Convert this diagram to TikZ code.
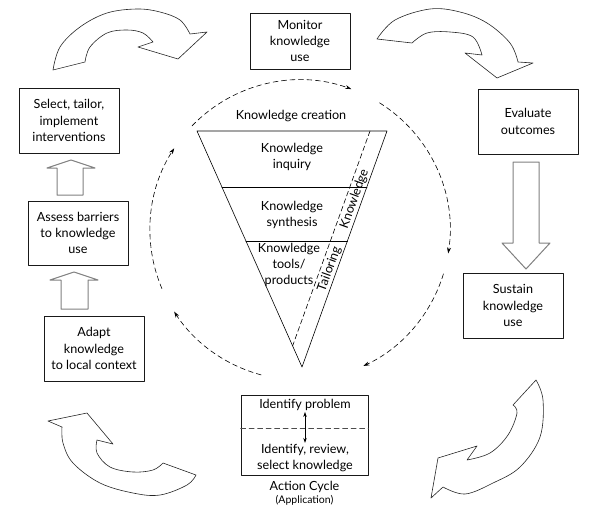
\documentclass[tikz,border=0pt]{standalone}
\usepackage{fontspec}
\setmainfont{Lato}
\usetikzlibrary{arrows.meta,positioning}
\begin{document}
\begin{tikzpicture}[x=1pt,y=-1pt,line cap=round,line join=round,
  kbox/.style={draw=black!90,line width=.8pt,align=center,minimum width=100pt,minimum height=65pt,inner sep=1pt,font=\fontsize{12.6}{16.3}\selectfont},
  ktext/.style={align=center,inner sep=1pt,font=\fontsize{12.6}{16.3}\selectfont},
  cyc/.style={dash pattern=on 5pt off 3.5pt,line width=.6pt,-{Stealth[length=6pt,width=4pt]}},
  blockarrow/.style={draw=black!50,line width=1pt},
  bendarrow/.style={draw=black!85,line width=.6pt}]
\path[use as bounding box] (0,0) rectangle (601,530);
\node[kbox,minimum height=56pt] (monitor) at (300,41) {Monitor\\knowledge\\use};
\node[kbox] (select) at (69,120.5) {Select, tailor,\\implement\\interventions};
\node[kbox] (evaluate) at (528,121.5) {Evaluate\\outcomes};
\node[kbox,minimum height=64pt] (assess) at (78,233) {Assess barriers\\to knowledge\\use};
\node[kbox] (adapt) at (94,348.5) {Adapt\\knowledge\\to local context};
\node[kbox] (sustain) at (513,305.5) {Sustain\\knowledge\\use};
\node[kbox,minimum width=127pt,minimum height=80pt] (action) at (304.5,435) {};
\node[ktext] (idprob) at (305,405) {Identify problem};
\node[ktext] (idsel) at (305,458) {Identify, review,\\select knowledge};
\node[ktext,font=\fontsize{12.6}{12.5}\selectfont] (cyclabel) at (304.5,493) {Action Cycle\\{\fontsize{10.5}{11}\selectfont(Application)}};
\draw[dash pattern=on 5pt off 3.5pt,line width=.6pt,black!70] ([yshift=7pt]action.west) -- ([yshift=7pt]action.east);
\draw[{Stealth[length=5pt,width=3.5pt]}-{Stealth[length=5pt,width=3.5pt]},line width=.6pt] (idprob.south) -- (idsel.north);
\draw[line width=.6pt] (197,131) -- (387,131) -- (302,367) -- cycle;
\draw[line width=.6pt] (222,187) -- (367,187);
\draw[line width=.8pt] (246,241) -- (347.4,241);
\draw[dash pattern=on 5pt off 3pt,line width=.6pt] (370,131) -- (292.6,345.9);
\node[ktext] (kcreate) at (291,116) {Knowledge creation};
\node[ktext] (kinquiry) at (292,157) {Knowledge\\inquiry};
\node[ktext] (ksynth) at (292,215) {Knowledge\\synthesis};
\node[ktext,inner sep=0pt] (ktools) at (289,265) {Knowledge\\tools/\\products};
\node[ktext,inner sep=0pt,rotate=70.2] (kword) at (354.5,199) {Knowledge};
\node[ktext,inner sep=0pt,rotate=70.2] (tword) at (329.5,269) {Tailoring};
\draw[cyc] ([shift={(300,230)}]136:150pt) arc[start angle=136,end angle=70,radius=150pt];
\draw[cyc] ([shift={(300,230)}]58:150pt) arc[start angle=58,end angle=-9,radius=150pt];
\draw[cyc] ([shift={(300,230)}]-17:150pt) arc[start angle=-17,end angle=-65,radius=150pt];
\draw[cyc] ([shift={(300,230)}]255:150pt) arc[start angle=255,end angle=213,radius=150pt];
\draw[cyc] ([shift={(300,230)}]203:150pt) arc[start angle=203,end angle=147,radius=150pt];
\draw[blockarrow] (57,195) -- (57,168) -- (47,168) -- (71,160) -- (95,168) -- (83,168) -- (83,195) -- cycle;
\draw[blockarrow] (61,309) -- (61,280) -- (50,280) -- (74,272) -- (98,280) -- (88,280) -- (88,309) -- cycle;
\draw[blockarrow] (513,162) -- (513,243) -- (502,243) -- (526,269) -- (550,243) -- (539,243) -- (539,162) -- cycle;
\draw[bendarrow] plot[smooth,tension=.6] coordinates {(53,70) (60,47) (80,27) (107,13) (137,9) (160,12) (180,20) (190,34)} -- (207,32) -- (178,59) -- (138,47) -- (153,42) -- plot[smooth,tension=.6] coordinates {(153,42) (143,33) (127,30) (107,33) (90,47) (85,62)} -- cycle;
\draw[bendarrow] plot[smooth,tension=.6] coordinates {(377,39) (395,20) (430,9) (460,12) (487,23) (510,43) (518,62)} -- (533,63) -- (497,78) -- (465,53) -- (482,55) -- plot[smooth,tension=.6] coordinates {(482,55) (473,37) (450,32) (427,33) (412,43)} -- cycle;
\draw[bendarrow] plot[smooth,tension=.6] coordinates {(536,380) (543,400) (540,437) (520,467) (493,483) (465,494) (443,487)} -- (431,498) -- (438,458) -- (477,446) -- (467,460) -- plot[smooth,tension=.6] coordinates {(467,460) (490,453) (508,435) (517,413) (513,405)} -- cycle;
\draw[bendarrow] plot[smooth,tension=.6] coordinates {(196,475) (187,485) (160,495) (133,493) (100,483) (73,463) (63,443) (62,427)} -- (48,421) -- (87,413) -- (113,444) -- (97,440) -- plot[smooth,tension=.6] coordinates {(97,440) (97,453) (110,467) (133,472) (153,470) (163,463)} -- cycle;
\end{tikzpicture}
\end{document}
